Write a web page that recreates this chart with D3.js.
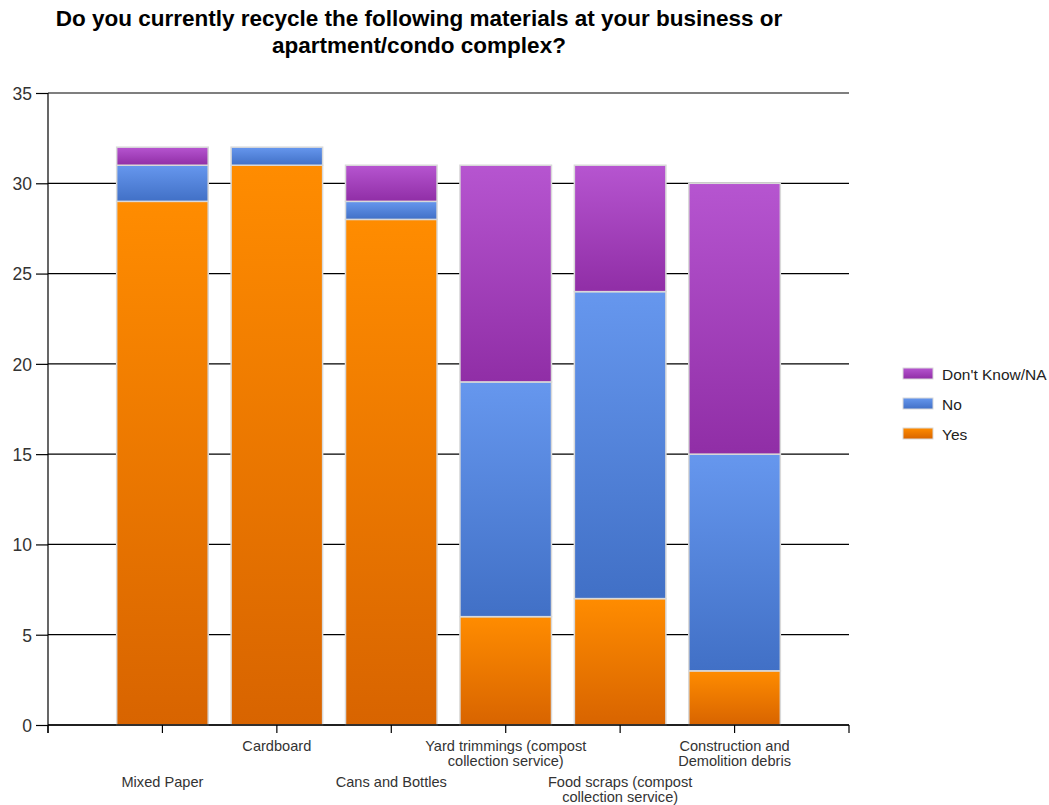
<!DOCTYPE html>
<html>
<head>
<meta charset="utf-8">
<script src="https://cdn.jsdelivr.net/npm/d3@7"></script>
<style>
  html, body { margin: 0; padding: 0; background: #fff; }
  svg { display: block; }
</style>
</head>
<body>
<svg id="chart" width="1049" height="805"></svg>
<script>
// Survey responses per material
const categories = [
  ["Mixed Paper"],
  ["Cardboard"],
  ["Cans and Bottles"],
  ["Yard trimmings (compost", "collection service)"],
  ["Food scraps (compost", "collection service)"],
  ["Construction and", "Demolition debris"]
];
const yesValues = [29, 31, 28, 6, 7, 3];
const noValues = [2, 1, 1, 13, 17, 12];
const dontKnowValues = [1, 0, 2, 12, 7, 15];
const seriesNames = ["Yes", "No", "Don't Know/NA"];
const yTicks = [0, 5, 10, 15, 20, 25, 30, 35];
const titleLines = [
  "Do you currently recycle the following materials at your business or",
  "apartment/condo complex?"
];

const FONT = "Liberation Sans, Arial, sans-serif";
const svg = d3.select("#chart");
const plotLeft = 48, plotRight = 849, plotTop = 93, plotBottom = 725;

const x = d3.scaleLinear().domain([0, categories.length + 1]).range([plotLeft, plotRight]);
const y = d3.scaleLinear().domain([0, 35]).range([plotBottom, plotTop]);
const step = x(1) - x(0);
const barW = step * 0.8;

// Vertical gradients per series
const grads = [
  { id: "gYes", top: "#ff8c00", bot: "#d86400" },
  { id: "gNo", top: "#6697ee", bot: "#4170c6" },
  { id: "gDk", top: "#b655d0", bot: "#902ea6" }
];
const defs = svg.append("defs");
grads.forEach(g => {
  const lg = defs.append("linearGradient").attr("id", g.id)
    .attr("x1", 0).attr("y1", 0).attr("x2", 0).attr("y2", 1);
  lg.append("stop").attr("offset", "0%").attr("stop-color", g.top);
  lg.append("stop").attr("offset", "100%").attr("stop-color", g.bot);
});

// Title
svg.append("text")
  .attr("x", 419).attr("y", 26)
  .attr("text-anchor", "middle")
  .attr("font-family", FONT)
  .attr("font-weight", "bold")
  .attr("font-size", 22.5)
  .attr("fill", "#000")
  .selectAll("tspan").data(titleLines).join("tspan")
  .attr("x", 419).attr("dy", (d, i) => i === 0 ? 0 : 27)
  .text(d => d);

// Y axis with gridlines
const yAxis = d3.axisLeft(y).tickValues(yTicks).tickSize(12).tickPadding(4);
const gy = svg.append("g").attr("transform", `translate(${plotLeft},0)`).call(yAxis);
gy.select(".domain").remove();
gy.selectAll(".tick line").attr("stroke", "#000").attr("stroke-width", 1.2);
gy.selectAll(".tick text")
  .attr("font-family", FONT)
  .attr("font-size", 17.5)
  .attr("dy", "0.36em")
  .attr("fill", "#333");

svg.append("g").selectAll("line").data(yTicks).join("line")
  .attr("x1", plotLeft).attr("x2", plotRight)
  .attr("y1", d => y(d)).attr("y2", d => y(d))
  .attr("stroke", "#000").attr("stroke-width", 1.2);

// Stacked bars
const stackData = categories.map((c, i) => ({
  idx: i + 1,
  vals: [yesValues[i], noValues[i], dontKnowValues[i]]
}));
const barG = svg.append("g");
stackData.forEach(d => {
  let acc = 0;
  d.vals.forEach((v, s) => {
    if (v > 0) {
      barG.append("rect")
        .attr("x", x(d.idx) - barW / 2)
        .attr("y", y(acc + v))
        .attr("width", barW)
        .attr("height", y(acc) - y(acc + v))
        .attr("fill", `url(#${grads[s].id})`)
        .attr("stroke", "#d9d9d9")
        .attr("stroke-width", 1.5);
    }
    acc += v;
  });
});

// Left axis line
svg.append("line")
  .attr("x1", plotLeft).attr("x2", plotLeft).attr("y1", plotTop).attr("y2", plotBottom + 8)
  .attr("stroke", "#000").attr("stroke-width", 1.2);

// Category axis
const xTickVals = d3.range(0, categories.length + 2);
svg.append("line")
  .attr("x1", plotLeft).attr("x2", plotRight).attr("y1", plotBottom).attr("y2", plotBottom)
  .attr("stroke", "#000").attr("stroke-width", 1.5);
svg.append("g").selectAll("line").data(xTickVals).join("line")
  .attr("x1", d => x(d)).attr("x2", d => x(d))
  .attr("y1", plotBottom).attr("y2", plotBottom + 8)
  .attr("stroke", "#000").attr("stroke-width", 1.2);

const labG = svg.append("g")
  .attr("font-family", FONT)
  .attr("font-size", 14.6)
  .attr("fill", "#333")
  .attr("text-anchor", "middle");
categories.forEach((lines, i) => {
  const cx = x(i + 1);
  const y0 = (i % 2 === 0) ? 787 : 751;
  const t = labG.append("text").attr("x", cx).attr("y", y0);
  lines.forEach((ln, k) => {
    t.append("tspan").attr("x", cx).attr("dy", k === 0 ? 0 : 15).text(ln);
  });
});

// Legend
const legendItems = [
  { name: seriesNames[2], g: grads[2] },
  { name: seriesNames[1], g: grads[1] },
  { name: seriesNames[0], g: grads[0] }
];
const lg = svg.append("g");
legendItems.forEach((it, i) => {
  const yy = 368 + i * 30;
  lg.append("rect").attr("x", 903).attr("y", yy).attr("width", 30).attr("height", 11)
    .attr("fill", `url(#${it.g.id})`).attr("stroke", "#d9d9d9").attr("stroke-width", 1);
  lg.append("text").attr("x", 942).attr("y", yy + 11.5)
    .attr("font-family", FONT)
    .attr("font-size", 15.5).attr("fill", "#222")
    .text(it.name);
});
</script>
</body>
</html>
